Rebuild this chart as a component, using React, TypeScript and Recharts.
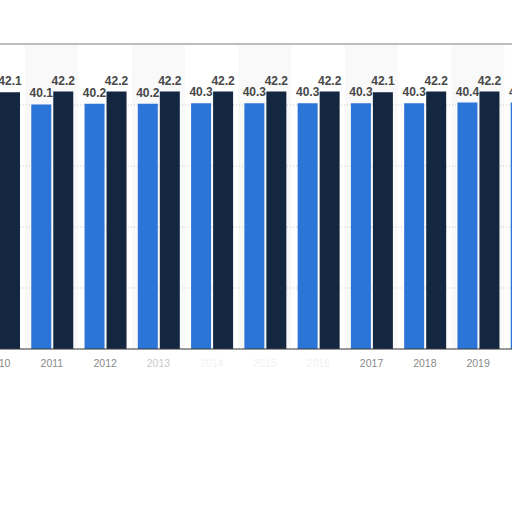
import { Bar, BarChart, CartesianGrid, Cell, LabelList, ReferenceLine, XAxis, YAxis } from "recharts";

const years = ["2010", "2011", "2012", "2013", "2014", "2015", "2016", "2017", "2018", "2019", "2020"];
const lightSeries = [40.1, 40.1, 40.2, 40.2, 40.3, 40.3, 40.3, 40.3, 40.3, 40.4, 40.4];
const darkSeries = [42.1, 42.2, 42.2, 42.2, 42.2, 42.2, 42.2, 42.1, 42.2, 42.2, 42.2];
const yTicks = [0, 10, 20, 30, 40, 50];
// labels lost or smudged under the torn paper edge in the picture
const tornLabels = ["2014", "2015", "2016"];
const fadedLabels = ["2013"];

const data = years.map((year, i) => ({
  year,
  light: lightSeries[i],
  dark: darkSeries[i],
  band: yTicks[yTicks.length - 1],
}));

const W = 586;
const H = 382;
const axisH = 33; // plot bottom lands at y = 349
const margin = { top: 44, right: 0, left: 0, bottom: 0 };
const font = "'Liberation Sans', Arial, sans-serif";
const blue = "#2b74d8";
const navy = "#132840";
const label = { fill: "#484848", fontSize: 12, fontWeight: 700, fontFamily: font };

function YearTick(props: any) {
  const { x, y, payload } = props;
  const fill = tornLabels.includes(payload.value) ? "#f2f2f2" : fadedLabels.includes(payload.value) ? "#c8c8c8" : "#8a8a8a";
  return (
    <text x={x} y={y} dy="0.71em" textAnchor="middle" fontSize={10.5} fontFamily={font} fill={fill}>
      {payload.value}
    </text>
  );
}

export default function App() {
  return (
    <div style={{ position: "absolute", left: 0, top: 0, width: 512, height: 512, overflow: "hidden", background: "#fff" }}>
      {/* alternating column bands */}
      <div style={{ position: "absolute", left: -28.5, top: 0 }}>
        <BarChart width={W} height={H} data={data} margin={{ ...margin, bottom: axisH }} barCategoryGap={0}>
          <XAxis dataKey="year" hide />
          <YAxis hide domain={[0, 50]} ticks={yTicks} />
          <Bar dataKey="band" isAnimationActive={false}>
            {data.map((d, i) => (
              <Cell key={d.year} fill={i % 2 === 1 ? "#f9f9f9" : "#ffffff"} />
            ))}
          </Bar>
        </BarChart>
      </div>
      <div style={{ position: "absolute", left: -28.5, top: 0 }}>
        <BarChart width={W} height={H} data={data} margin={margin} barSize={20} barGap={2}>
          <CartesianGrid horizontal vertical={false} stroke="#c9c9c9" strokeDasharray="1 2" />
          <XAxis
            dataKey="year"
            tick={<YearTick />}
            tickLine={false}
            tickMargin={5}
            axisLine={{ stroke: "#3a3a3a", strokeWidth: 1 }}
            interval={0}
            height={axisH}
          />
          <YAxis hide domain={[0, 50]} ticks={yTicks} />
          <ReferenceLine y={50} stroke="#bdbdbd" strokeWidth={2} />
          <Bar dataKey="light" fill={blue} isAnimationActive={false}>
            <LabelList dataKey="light" position="top" offset={7} {...label} />
          </Bar>
          <Bar dataKey="dark" fill={navy} isAnimationActive={false}>
            <LabelList dataKey="dark" position="top" offset={7} {...label} />
          </Bar>
        </BarChart>
      </div>
    </div>
  );
}
